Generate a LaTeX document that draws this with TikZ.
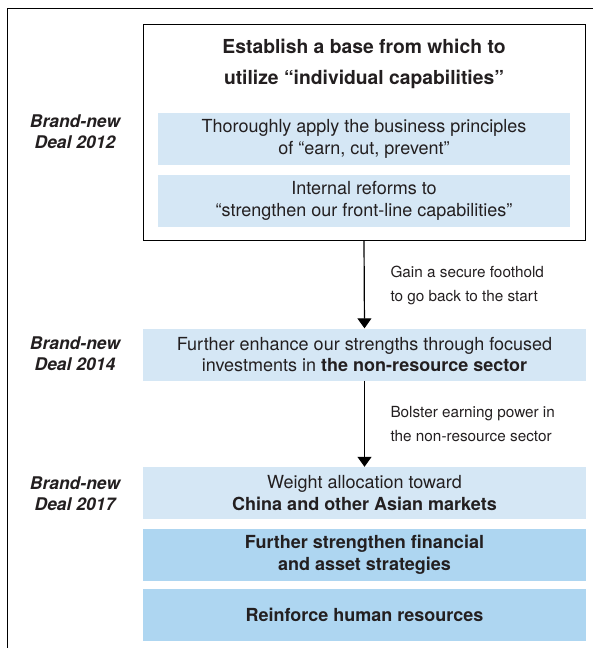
\documentclass[tikz,border=0pt]{standalone}
\usepackage{fontspec}
\setmainfont{TeX Gyre Heros}
\usepackage{xcolor}
\usepackage{tikz}
\usetikzlibrary{positioning,arrows.meta}

\definecolor{inkgrey}{HTML}{231F20}
\definecolor{paleblue}{HTML}{D5E7F5}
\definecolor{deepblue}{HTML}{AED6F1}

\tikzset{
    planbox/.style={fill=paleblue, minimum width=443pt, minimum height=52pt, align=center,
        text=inkgrey, font=\fontsize{18}{21.5}\selectfont, inner sep=0pt},
    strongbox/.style={planbox, fill=deepblue, font=\bfseries\fontsize{18}{21.5}\selectfont},
    subbox/.style={planbox, minimum width=412pt},
    dealtag/.style={align=center, text=inkgrey, font=\bfseries\itshape\fontsize{17.5}{21}\selectfont},
    steptext/.style={align=left, anchor=west, text=inkgrey, font=\fontsize{15.3}{24}\selectfont},
    flow/.style={line width=1.2pt, -{Triangle[width=14pt,length=10pt]}}
}

\begin{document}
\begin{tikzpicture}[x=1pt,y=-1pt]
    \useasboundingbox (0,0) rectangle (593,648);
    % frame
    \draw[line width=1.2pt] (593,8.5) -- (7.5,8.5) -- (7.5,648);
    % 2012
    \node[draw, line width=1pt, minimum width=442pt, minimum height=216pt, inner sep=0pt] (base) at (364,132) {};
    \node[align=center, text=inkgrey, font=\bfseries\fontsize{19.3}{31}\selectfont] (title) at (364,63.5)
        {Establish a base from which to\\utilize ``individual capabilities''};
    \node[subbox] (principles) at (364,139) {Thoroughly apply the business principles\\of ``earn, cut, prevent''};
    \node[subbox] (reforms) at (364,201) {Internal reforms to\\``strengthen our front-line capabilities''};
    \node[dealtag] (deal12) at (75,131.5) {Brand-new\\Deal 2012};
    % 2014
    \node[planbox] (invest) at (364.5,354.5) {Further enhance our strengths through focused\\investments in \textbf{the non-resource sector}};
    \node[dealtag] (deal14) at (75,354) {Brand-new\\Deal 2014};
    % 2017
    \node[planbox] (asia) at (364.5,493) {Weight allocation toward\\\textbf{China and other Asian markets}};
    \node[strongbox] (finance) at (364.5,554.5) {Further strengthen financial\\and asset strategies};
    \node[strongbox] (people) at (364.5,614.5) {Reinforce human resources};
    \node[dealtag] (deal17) at (75,493.5) {Brand-new\\Deal 2017};
    % arrows
    \draw[flow] (base.south) -- (invest.north);
    \node[steptext] (foothold) at (387,285) {Gain a secure foothold\\to go back to the start};
    \draw[flow] (invest.south) -- (asia.north);
    \node[steptext] (bolster) at (387,424.5) {Bolster earning power in\\the non-resource sector};
\end{tikzpicture}
\end{document}
